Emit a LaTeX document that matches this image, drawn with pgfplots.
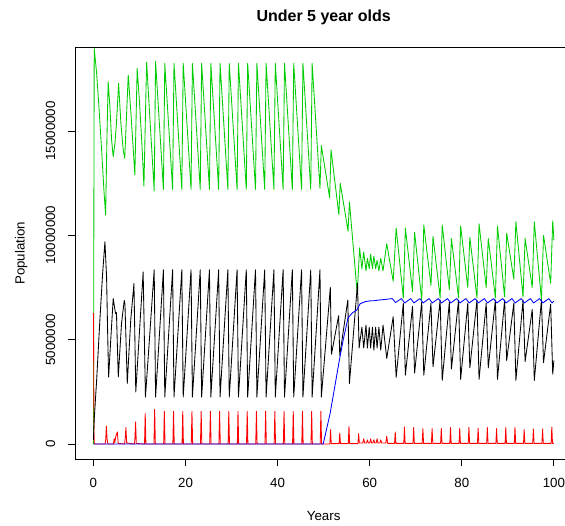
\documentclass[border=0pt]{standalone}
\usepackage{pgfplots}
\pgfplotsset{compat=1.18}
\usepackage{fontspec}
\setmainfont{Liberation Sans}
\definecolor{rgreen}{RGB}{0,205,0}
\definecolor{rred}{RGB}{255,0,0}
\definecolor{rblue}{RGB}{0,0,255}
\begin{document}
\begin{tikzpicture}
\begin{axis}[
  at={(75pt,65.7pt)}, anchor=south west,
  scale only axis, width=497.3pt, height=412pt,
  xmin=-4, xmax=104, ymin=-0.731, ymax=19.01,
  axis line style={black, line width=0.8pt},
  tick align=outside, major tick length=7pt,
  tick style={black, line width=0.8pt},
  xtick={0,20,40,60,80,100}, xticklabels={0,20,40,60,80,100},
  ytick={0,5,10,15}, yticklabels={0,5000000,10000000,15000000},
  xtick pos=bottom, ytick pos=left,
  ticklabel style={font=\fontsize{13.3}{16}\selectfont, inner sep=0pt},
  xticklabel style={anchor=north}, xticklabel shift=12pt,
  yticklabel style={rotate=90, anchor=south}, yticklabel shift=12.5pt,
  every axis title shift=0pt,
  title={Under 5 year olds},
  title style={at={(axis description cs:0.5,1.0621)}, anchor=base, yshift=0pt, font=\bfseries\fontsize{16}{19}\selectfont, inner sep=0pt},
  xlabel={Years},
  xlabel style={at={(axis description cs:0.5,-0.149)}, anchor=base, font=\fontsize{13.3}{16}\selectfont, inner sep=0pt},
  ylabel={Population},
  ylabel style={at={(axis description cs:-0.1015,0.5)}, anchor=base, font=\fontsize{13.3}{16}\selectfont, inner sep=0pt},
  clip=true,
  every axis plot/.append style={line width=0.85pt, line join=round}
]
% green
\addplot[rgreen] coordinates {
(0,0) (0.17,18.96) (0.7,17.76) (1.2,16.16) (1.78,14.09) (2.28,12.17) (2.65,10.97) (2.93,14.57) (3.2,17.36) (3.58,16.16) (3.95,14.57) (4.3,13.77) (4.67,14.4) (5.0,15.36) (5.47,17.28) (5.97,15.36) (6.47,14.09) (6.8,13.69) (7.56,17.68) (8.1,16.0) (8.6,14.3) (9.0,12.89) (9.5,18.0) (10.0,16.4) (10.5,14.5) (10.97,12.36) (11.55,18.3)
(13.2,12.12) (13.5,18.33) (15.2,12.2) (15.5,18.24) (17.2,12.2) (17.5,18.24) (19.2,12.2) (19.5,18.24) (21.2,12.2) (21.5,18.24) (23.2,12.2) (23.5,18.24) (25.2,12.2) (25.5,18.24) (27.2,12.2) (27.5,18.24) (29.2,12.2) (29.5,18.24) (31.2,12.2) (31.5,18.24) (33.2,12.2) (33.5,18.24) (35.2,12.2) (35.5,18.24) (37.2,12.2) (37.5,18.24) (39.2,12.2) (39.5,18.24) (41.2,12.2) (41.5,18.24) (43.2,12.2) (43.5,18.24) (45.2,12.2) (45.5,18.24) (47.2,12.2) (47.5,18.24)
(49.2,12.25) (49.5,14.3) (51.3,11.8) (51.6,14.1) (53.3,11.0) (53.6,12.5) (55.3,10.2) (55.6,11.6) (57.3,7.2) (57.8,9.4) (58.3,8.4) (58.7,9.2) (59.2,8.3) (59.5,8.9) (59.9,8.4) (60.2,9.1) (60.6,8.4) (60.9,9.0) (61.3,8.4) (61.6,8.8) (62.0,8.3) (62.4,8.9) (62.9,8.3) (63.7,9.6) (65.1,7.8) (65.75,10.35)
(67.3,7.0) (67.75,10.35) (69.3,7.3) (69.75,10.15) (71.3,6.9) (71.75,10.5) (73.3,7.6) (73.75,9.95) (75.3,7.0) (75.75,10.5) (77.3,7.4) (77.75,9.85) (79.3,7.0) (79.75,10.45) (81.3,7.5) (81.75,9.9) (83.3,7.0) (83.75,10.55) (85.3,7.5) (85.75,9.85) (87.3,7.0) (87.75,10.45) (89.3,7.05) (89.75,10.1) (91.3,7.9) (91.75,10.65) (93.3,7.05) (93.75,9.85) (95.3,7.5) (95.75,10.65) (97.3,6.9) (97.75,10.0) (99.3,7.7) (99.75,10.7) (100,9.77)
};
% red
\addplot[rred] coordinates {
(0,6.28) (0.15,0.1) (0.3,0) (2.55,0) (2.68,0.25) (2.82,0.86) (2.96,0.25) (3.15,0) (4.35,0) (4.5,0.26) (4.65,0.08) (4.9,0.4) (5.2,0.58) (5.38,0.03) (6.75,0) (6.9,0.25) (7.06,0.79) (7.22,0.05) (8.9,0) (9.0,0.2) (9.16,1.06) (9.32,0.03) (11.1,0) (11.25,1.46) (11.4,0) (13.15,0) (13.3,1.66) (13.45,0)
(15.25,0) (15.4,1.57) (15.55,0) (17.25,0) (17.4,1.57) (17.55,0) (19.25,0) (19.4,1.57) (19.55,0) (21.25,0) (21.4,1.57) (21.55,0) (23.25,0) (23.4,1.57) (23.55,0) (25.25,0) (25.4,1.57) (25.55,0) (27.25,0) (27.4,1.57) (27.55,0) (29.25,0) (29.4,1.57) (29.55,0) (31.25,0) (31.4,1.57) (31.55,0) (33.25,0) (33.4,1.57) (33.55,0) (35.25,0) (35.4,1.57) (35.55,0) (37.25,0) (37.4,1.57) (37.55,0) (39.25,0) (39.4,1.57) (39.55,0) (41.25,0) (41.4,1.57) (41.55,0) (43.25,0) (43.4,1.57) (43.55,0) (45.25,0) (45.4,1.57) (45.55,0) (47.25,0) (47.4,1.57) (47.55,0) (49.25,0) (49.4,1.57) (49.55,0)
(51.35,0) (51.5,0.69) (51.65,0.02) (53.35,0.02) (53.5,0.53) (53.65,0.02) (55.35,0.02) (55.5,0.85) (55.65,0.02) (57.45,0.02) (57.6,0.5) (57.75,0.05) (58.5,0.05) (58.7,0.25) (58.9,0.05) (59.3,0.05) (59.5,0.2) (59.7,0.05) (60.0,0.05) (60.2,0.25) (60.4,0.05) (60.7,0.05) (60.9,0.2) (61.1,0.05) (61.4,0.05) (61.6,0.25) (61.8,0.05) (62.2,0.05) (62.4,0.2) (62.6,0.05) (63.5,0.05) (63.7,0.37) (63.9,0.03) (65.4,0.03) (65.55,0.58) (65.7,0.03)
(67.4,0.03) (67.55,0.82) (67.7,0.03) (69.4,0.03) (69.55,0.79) (69.7,0.03) (71.4,0.03) (71.55,0.74) (71.7,0.03) (73.4,0.03) (73.55,0.74) (73.7,0.03) (75.4,0.03) (75.55,0.76) (75.7,0.03) (77.4,0.03) (77.55,0.79) (77.7,0.03) (79.4,0.03) (79.55,0.76) (79.7,0.03) (81.4,0.03) (81.55,0.8) (81.7,0.03) (83.4,0.03) (83.55,0.76) (83.7,0.03) (85.4,0.03) (85.55,0.79) (85.7,0.03) (87.4,0.03) (87.55,0.74) (87.7,0.03) (89.4,0.03) (89.55,0.8) (89.7,0.03) (91.4,0.03) (91.55,0.8) (91.7,0.03) (93.4,0.03) (93.55,0.69) (93.7,0.03) (95.4,0.03) (95.55,0.72) (95.7,0.03) (97.4,0.03) (97.55,0.72) (97.7,0.03) (99.4,0.03) (99.55,0.82) (99.7,0.03) (100,0.03)
};
% black
\addplot[black] coordinates {
(0,0.2) (0.15,1.1) (0.7,3.06) (1.4,5.93) (2.0,8.17) (2.5,9.69) (2.86,8.0) (3.08,5.45) (3.3,3.21) (3.8,5.13) (4.3,6.97) (4.8,6.25) (5.0,6.3) (5.4,3.21) (6.1,5.77) (6.7,6.89) (6.85,6.7) (7.35,2.9) (8.1,5.93) (8.8,7.69) (9.2,2.5) (10.8,8.25) (11.3,2.25)
(13.2,8.35) (13.5,2.25) (15.2,8.35) (15.5,2.25) (17.2,8.35) (17.5,2.25) (19.2,8.35) (19.5,2.25) (21.2,8.35) (21.5,2.25) (23.2,8.35) (23.5,2.25) (25.2,8.35) (25.5,2.25) (27.2,8.35) (27.5,2.25) (29.2,8.35) (29.5,2.25) (31.2,8.35) (31.5,2.25) (33.2,8.35) (33.5,2.25) (35.2,8.35) (35.5,2.25) (37.2,8.35) (37.5,2.25) (39.2,8.35) (39.5,2.25) (41.2,8.35) (41.5,2.25) (43.2,8.35) (43.5,2.25) (45.2,8.35) (45.5,2.25) (47.2,8.35) (47.5,2.25) (49.2,8.35) (49.5,2.25)
(51.45,7.5) (51.7,4.3) (53.25,6.15) (53.5,4.25) (55.25,6.9) (55.6,2.9) (57.35,7.7) (57.7,4.6) (58.3,5.6) (58.7,4.6) (59.2,5.7) (59.5,4.6) (59.9,5.6) (60.2,4.6) (60.6,5.6) (60.9,4.5) (61.3,5.6) (61.6,4.6) (62.0,5.6) (62.4,4.5) (62.9,5.7) (63.7,4.1) (65.1,6.1) (65.75,3.2)
(67.3,6.75) (67.75,3.3) (69.3,6.6) (69.75,3.4) (71.3,6.8) (71.75,3.3) (73.3,6.75) (73.75,3.7) (75.3,6.9) (75.75,3.05) (77.3,6.8) (77.75,3.6) (79.3,6.9) (79.75,3.1) (81.3,6.75) (81.75,3.65) (83.3,6.9) (83.75,3.1) (85.3,6.75) (85.75,3.65) (87.3,6.9) (87.75,3.1) (89.3,6.9) (89.75,4.0) (91.3,6.75) (91.75,3.05) (93.3,6.9) (93.75,3.95) (95.3,6.45) (95.75,3.05) (97.3,6.9) (97.75,3.9) (99.3,6.7) (99.75,3.35) (100,4.0)
};
% blue
\addplot[rblue] coordinates {
(0,0) (49.9,0) (51.4,1.46) (53.4,4.0) (54.3,5.05) (55.3,6.05) (56.3,6.3) (57.2,6.42) (57.9,6.72) (59,6.82) (60,6.86) (61,6.87) (62,6.9) (63,6.92) (64.9,6.97) (65.6,6.78)
(66.9,6.97) (67.6,6.76) (68.9,6.97) (69.6,6.76) (70.9,6.97) (71.6,6.76) (72.9,6.97) (73.6,6.76) (74.9,6.97) (75.6,6.76) (76.9,6.97) (77.6,6.76) (78.9,6.97) (79.6,6.76) (80.9,6.97) (81.6,6.76) (82.9,6.97) (83.6,6.76) (84.9,6.97) (85.6,6.76) (86.9,6.97) (87.6,6.76) (88.9,6.97) (89.6,6.76) (90.9,6.97) (91.6,6.76) (92.9,6.97) (93.6,6.76) (94.9,6.97) (95.6,6.76) (96.9,6.97) (97.6,6.76) (98.9,6.97) (99.6,6.76) (100,6.85)
};
\end{axis}
\pgfresetboundingbox
\useasboundingbox (0,0) rectangle (565pt,525pt);
\end{tikzpicture}
\end{document}
